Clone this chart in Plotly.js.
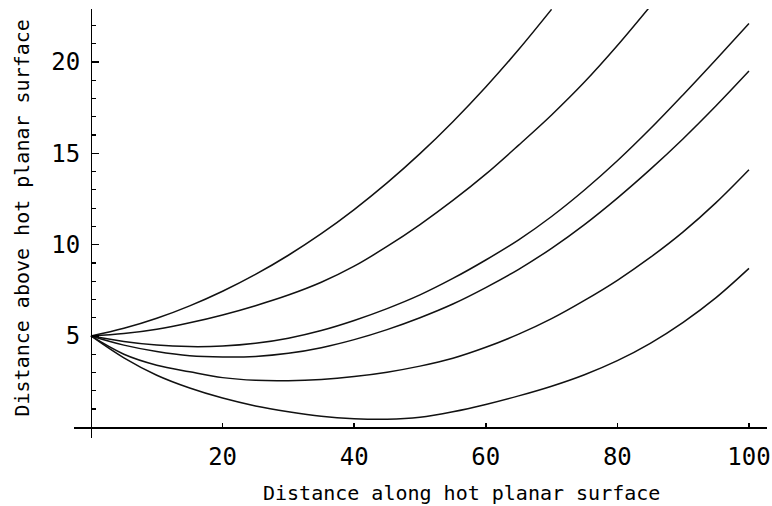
<!DOCTYPE html>
<html>
<head>
<meta charset="utf-8">
<script src="https://cdn.plot.ly/plotly-3.0.1.min.js"></script>
<style>html,body{margin:0;padding:0;background:#fff;}#chart{width:772px;height:506px;}</style>
</head>
<body>
<div id="chart"></div>
<script>
// Distance along hot planar surface (shared x samples)
const xs = [0,5,10,15,20,25,30,35,40,45,50,55,60,65,70,75,80,85,90,95,100];

// Distance above hot planar surface, one array per trajectory
const path1 = [5.0,5.42,5.97,6.65,7.45,8.37,9.42,10.6,11.92,13.38,14.98,16.73,18.63,20.68,22.88];
const path2 = [5.0,5.13,5.37,5.72,6.15,6.66,7.24,7.94,8.82,9.9,11.1,12.42,13.86,15.45,17.1,18.9,20.9,23.05];
const path3 = [5.0,4.7,4.5,4.42,4.45,4.6,4.88,5.3,5.85,6.5,7.25,8.15,9.16,10.26,11.54,12.99,14.59,16.34,18.21,20.14,22.1];
const path4 = [5.0,4.5,4.15,3.92,3.85,3.88,4.05,4.36,4.8,5.35,6.0,6.75,7.65,8.65,9.8,11.1,12.55,14.12,15.8,17.6,19.5];
const path5 = [5.0,4.0,3.4,3.04,2.72,2.57,2.55,2.62,2.78,3.02,3.35,3.78,4.38,5.1,5.95,6.95,8.05,9.3,10.7,12.3,14.1];
const path6 = [5.0,3.8,2.85,2.15,1.6,1.17,0.85,0.6,0.47,0.44,0.55,0.85,1.25,1.72,2.25,2.88,3.65,4.6,5.75,7.1,8.7];

const xTickVals = [20,40,60,80,100];
const yTickVals = [5,10,15,20];
const xTitle = "Distance along hot planar surface";
const yTitle = "Distance above hot planar surface";

const paths = [path1,path2,path3,path4,path5,path6];
const traces = paths.map(p => ({
  type: 'scatter', mode: 'lines',
  x: xs.slice(0, p.length), y: p,
  line: {color: '#111', width: 1.5, shape: 'spline', smoothing: 1},
  hoverinfo: 'skip', showlegend: false
}));

const xr = [-2.58, 102.74];
const yr = [-0.585, 22.9];
const font = 'DejaVu Sans Mono, monospace';

const layout = {
  width: 772, height: 506,
  margin: {l: 74, r: 5, t: 9, b: 68},
  paper_bgcolor: '#fff', plot_bgcolor: '#fff',
  showlegend: false,
  font: {family: font, color: '#000'},
  xaxis: {
    range: xr, anchor: 'free', position: (0 - yr[0]) / (yr[1] - yr[0]),
    showgrid: false, zeroline: false,
    showline: true, linecolor: '#000', linewidth: 1.5,
    tickmode: 'array', tickvals: xTickVals,
    ticks: 'inside', ticklen: 4, tickwidth: 1.5, tickcolor: '#000',
    tickfont: {family: font, size: 24, color: '#000'},
    ticklabelstandoff: 7
  },
  yaxis: {
    range: yr, anchor: 'free', position: (0 - xr[0]) / (xr[1] - xr[0]),
    showgrid: false, zeroline: false,
    showline: true, linecolor: '#000', linewidth: 1.5,
    tickmode: 'array', tickvals: yTickVals,
    ticks: 'inside', ticklen: 7, tickwidth: 1.5, tickcolor: '#000',
    minor: {tickmode: 'linear', tick0: 0, dtick: 1, ticks: 'inside', ticklen: 4, tickwidth: 1.2, tickcolor: '#000', showgrid: false},
    tickfont: {family: font, size: 24, color: '#000'},
    ticklabelstandoff: 6
  },
  annotations: [
    {text: xTitle, xref: 'paper', yref: 'paper', x: (461 - 74) / 693, y: -0.128,
     xanchor: 'center', yanchor: 'middle', showarrow: false,
     font: {family: font, size: 20, color: '#000'}},
    {text: yTitle, xref: 'paper', yref: 'paper', x: (22 - 74) / 693, y: (438 - 218.5) / 429,
     xanchor: 'center', yanchor: 'middle', textangle: -90, showarrow: false,
     font: {family: font, size: 20, color: '#000'}}
  ]
};

Plotly.newPlot('chart', traces, layout, {displayModeBar: false, staticPlot: true});
</script>
</body>
</html>
